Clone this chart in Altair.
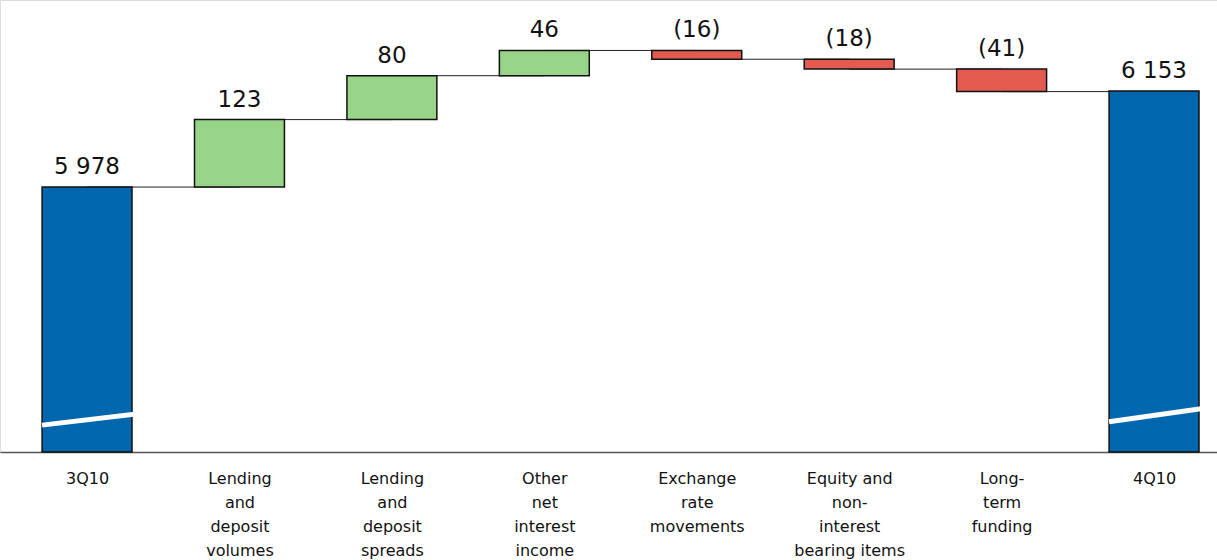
import json

import altair as alt
import pandas as pd

# Net interest income bridge, 3Q10 -> 4Q10 (EURm)
categories = [
    "3Q10",
    "Lending\nand\ndeposit\nvolumes",
    "Lending\nand\ndeposit\nspreads",
    "Other\nnet\ninterest\nincome",
    "Exchange\nrate\nmovements",
    "Equity and\nnon-\ninterest\nbearing items",
    "Long-\nterm\nfunding",
    "4Q10",
]
changes = [5978, 123, 80, 46, -16, -18, -41, 6153]
value_labels = ["5 978", "123", "80", "46", "(16)", "(18)", "(41)", "6 153"]
kinds = ["total", "up", "up", "up", "down", "down", "down", "total"]

# broken value axis: the totals start from a cut-off floor
Y_FLOOR = 5495
Y_TOP = 6319
HALF_BAR = 0.295  # half bar width in category-index units
X_MIN, X_MAX = -0.571, 7.413

rows = []
level = None
for i, (cat, val, lab, kind) in enumerate(zip(categories, changes, value_labels, kinds)):
    if kind == "total":
        start, end = Y_FLOOR, val
    else:
        start, end = level, level + val
    level = end
    rows.append(dict(idx=i, start=start, end=end, top=max(start, end), label=lab, kind=kind))
bars = pd.DataFrame(rows)

connectors = pd.DataFrame(
    [dict(x=r["idx"], x2=r["idx"] + 1, y=r["end"]) for r in rows[:-1]]
)

# white slashes marking the axis break on the two total bars
breaks = pd.DataFrame(
    [
        dict(x=0 - HALF_BAR, x2=0.558, y=5544, y2=5572),
        dict(x=7 - HALF_BAR, x2=X_MAX, y=5550, y2=5578),
    ]
)

x_scale = alt.Scale(domain=[X_MIN, X_MAX], nice=False, zero=False)
y_scale = alt.Scale(domain=[Y_FLOOR, Y_TOP], nice=False, zero=False)

label_expr = f"split({json.dumps(categories)}[datum.value], '\\n')"

x_axis = alt.Axis(
    values=list(range(len(categories))),
    labelExpr=label_expr,
    title=None,
    grid=False,
    ticks=False,
    tickSize=0,
    labelPadding=18,
    labelFontSize=16,
    labelFont="DejaVu Sans",
    labelColor="#111111",
    labelLineHeight=24,
    labelBaseline="top",
    labelOverlap=False,
    labelFlush=False,
    labelBound=False,
    domainColor="#555555",
    domainWidth=1.5,
)


def xq(field):
    return alt.X(field, type="quantitative", scale=x_scale, axis=x_axis)


def yq(field):
    return alt.Y(field, type="quantitative", scale=y_scale, axis=None)


conn = (
    alt.Chart(connectors)
    .mark_rule(color="#222222", strokeWidth=1)
    .encode(x=xq("x"), x2="x2:Q", y=yq("y"))
)

bar = (
    alt.Chart(bars)
    .transform_calculate(x0=f"datum.idx - {HALF_BAR}", x1=f"datum.idx + {HALF_BAR}")
    .mark_bar(stroke="#111111", strokeWidth=1.5)
    .encode(
        x=xq("x0"),
        x2="x1:Q",
        y=yq("start"),
        y2="end:Q",
        color=alt.Color(
            "kind:N",
            scale=alt.Scale(
                domain=["total", "up", "down"],
                range=["#0066AD", "#97D488", "#E35A4F"],
            ),
            legend=None,
        ),
    )
)

slash = (
    alt.Chart(breaks)
    .mark_rule(color="white", strokeWidth=5)
    .encode(x=xq("x"), x2="x2:Q", y=yq("y"), y2="y2:Q")
)

text = (
    alt.Chart(bars)
    .mark_text(
        fontSize=23,
        font="DejaVu Sans",
        color="#111111",
        baseline="alphabetic",
        dy=-13,
    )
    .encode(x=xq("idx"), y=yq("top"), text="label:N")
)

chart = (
    alt.layer(conn, bar, slash, text)
    .properties(
        width=1217,
        height=452,
        autosize=alt.AutoSizeParams(type="none"),
        padding={"left": 0, "top": 0, "right": 0, "bottom": 108},
    )
    .configure_view(stroke="transparent", strokeWidth=0)
    .configure(background="white")
)

chart.save("out.html", embed_options={"renderer": "svg", "actions": False})
